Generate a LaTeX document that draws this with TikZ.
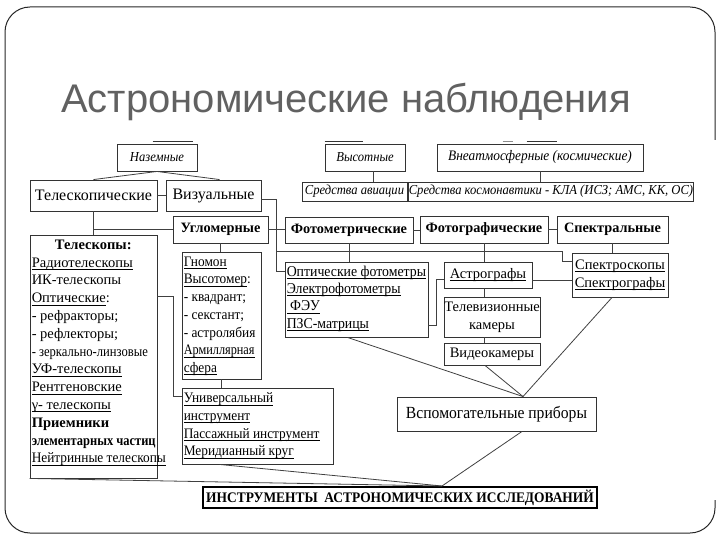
\documentclass[tikz,border=0pt]{standalone}
\usepackage{fontspec}
\setmainfont{Liberation Serif}
\newfontfamily\condfont{Liberation Serif}[FakeStretch=0.92]
\newfontfamily\titlefont{Liberation Sans}
\usepackage{graphicx}
\usepackage{tikz}
\usetikzlibrary{calc}
\newsavebox\undlbox
\newcommand{\undl}[1]{\sbox\undlbox{#1}\rlap{\rule[-2.6pt]{\wd\undlbox}{0.7pt}}\usebox\undlbox}

\begin{document}
\begin{tikzpicture}[x=1pt,y=-1pt,
  box/.style={draw=black!80,line width=0.9pt,inner sep=0pt,font=\fontsize{14.5}{17.8}\selectfont},
  ibox/.style={box,font=\condfont\fontsize{13.7}{17}\selectfont\itshape},
  bbox/.style={box,font=\fontsize{14.3}{17}\selectfont\bfseries},
  list/.style={anchor=north west,align=left,inner sep=0pt,font=\fontsize{14.5}{17.8}\selectfont},
  clist/.style={list,font=\condfont\fontsize{14.5}{17.7}\selectfont},
  link/.style={draw=black!75,line width=0.8pt},
  stub/.style={line width=1.3pt,black!80}]
\useasboundingbox (0,0) rectangle (720,540);
\draw[black!85,line width=1pt,rounded corners=25] (715,140) -- (715,7) -- (5,7) -- (5,533) -- (715,533) -- (715,500);
\node[anchor=base west,inner sep=0pt,text=black!62,font=\titlefont\fontsize{40}{48}\selectfont] (title) at (61,113) {Астрономические наблюдения};

\node[ibox,minimum width=80,minimum height=27] (naz) at (157,157.5) {Наземные};
\node[ibox,minimum width=80,minimum height=27] (vys) at (365,157.5) {Высотные};
\node[ibox,font=\condfont\fontsize{14.5}{17}\selectfont\itshape,minimum width=206,minimum height=27] (vne) at (540,157.5) {Внеатмосферные (космические)};
\node[ibox,minimum width=105,minimum height=19] (avia) at (354.5,191.5) {Средства авиации};
\node[ibox,minimum width=280,minimum height=19] (kosm) at (551,191.5) {Средства космонавтики - КЛА (ИСЗ; АМС, КК, ОС)};
\node[box,font=\fontsize{16}{19}\selectfont,minimum width=127,minimum height=31] (telsk) at (93.5,195.5) {Телескопические};
\node[box,font=\fontsize{16}{19}\selectfont,minimum width=95,minimum height=31] (viz) at (213.5,195.5) {Визуальные};
\node[bbox,minimum width=95,minimum height=27] (uglo) at (220.5,229.5) {Угломерные};
\node[bbox,minimum width=128,minimum height=26] (foto) at (349,230) {Фотометрические};
\node[bbox,minimum width=128,minimum height=27] (photog) at (484,229.5) {Фотографические};
\node[bbox,minimum width=111,minimum height=27] (spec) at (612.5,229.5) {Спектральные};

\node[box,minimum width=127,minimum height=243] (tel) at (93.5,356.5) {};
\node[list] (tel-list) at ($(tel.north west)+(2,5)$) {\makebox[123pt]{\textbf{Телескопы:}}\\
  \undl{Радиотелескопы}\\ ИК-телескопы\\ \undl{Оптические}:\\ - рефракторы;\\ - рефлекторы;\\
  \scalebox{0.87}[1]{- зеркально-линзовые}\\ \undl{УФ-телескопы}\\ \undl{Рентгеновские}\\
  \undl{γ- телескопы}\\ \textbf{Приемники}\\ \scalebox{0.86}[1]{\textbf{элементарных частиц}}\\
  \scalebox{0.92}[1]{\undl{Нейтринные телескопы}}};
\node[box,minimum width=79,minimum height=127] (gnom) at (221.5,315.5) {};
\node[clist] (gnom-list) at ($(gnom.north west)+(2,5)$) {\undl{Гномон}\\ \undl{Высотомер}:\\ - квадрант;\\
  - секстант;\\ - астролябия\\ \scalebox{0.92}[1]{\undl{Армиллярная}}\\ \undl{сфера}};
\node[box,minimum width=151,minimum height=76] (univ) at (257.5,426) {};
\node[clist] (univ-list) at ($(univ.north west)+(2,5)$) {\undl{Универсальный}\\ \undl{инструмент}\\
  \undl{Пассажный инструмент}\\ \undl{Меридианный круг}};
\node[box,minimum width=143,minimum height=75] (optf) at (356.5,299.5) {};
\node[clist,font=\condfont\fontsize{15}{17.3}\selectfont] (optf-list) at ($(optf.north west)+(2,4)$) {\undl{Оптические фотометры}\\ \undl{Электрофотометры}\\
  \undl{\ ФЭУ}\\ \undl{ПЗС-матрицы}};
\node[box,minimum width=88,minimum height=26] (astro) at (488,275) {\undl{Астрографы}};
\node[box,align=center,minimum width=96,minimum height=40] (tv) at (492,317) {Телевизионные\\камеры};
\node[box,minimum width=96,minimum height=22] (video) at (492,354) {Видеокамеры};
\node[box,align=center,minimum width=96,minimum height=44] (spsk) at (620,275) {\undl{Спектроскопы}\\\undl{Спектрографы}};
\node[box,font=\condfont\fontsize{17}{20}\selectfont,minimum width=199,minimum height=34] (aux) at (496.5,414) {Вспомогательные приборы};
\node[box,line width=2pt,draw=black,font=\condfont\fontsize{14.6}{18}\selectfont\bfseries,minimum width=394,minimum height=21] (instr) at (400,497.5) {ИНСТРУМЕНТЫ\ \ АСТРОНОМИЧЕСКИХ ИССЛЕДОВАНИЙ};

\draw[stub] ($(naz.north west)+(36,-2)$) -- ++(40,0);
\draw[stub] ($(vys.north west)+(0,-2)$) -- ++(38,0);
\draw[stub,black!45] ($(vne.north west)+(66,-2)$) -- ++(10,0);
\draw[stub] ($(vne.north west)+(90,-2)$) -- ++(30,0);

\draw[link] (naz.south) -- (telsk.north);
\draw[link] (naz.south) -- ($(viz.north)+(6,0)$);
\draw[link] ($(vys.south)+(8,0)$) -- ++(0,11);
\draw[link] (vne.south) -- (vne.south |- kosm.north);
\draw[link] (telsk.east) -- (telsk.east -| viz.west);
\draw[link] (telsk.south) -- (telsk.south |- tel.north);
\draw[link] (telsk.south |- uglo.west) -- (uglo.west);
\draw[link] ($(viz.east)+(0,4)$) -| ($(optf.north west)+(-8,10)$) -- ($(optf.north west)+(0,10)$);
\draw[link] ($(optf.north west)+(-8,-10)$) -- ($(spsk.north west)+(-9,-1)$) -- ($(spsk.north west)+(-9,9)$) -- ($(spsk.north west)+(0,9)$);
\draw[link] (uglo.east) -- (uglo.east -| foto.west);
\draw[link] (foto.east) -- (foto.east -| photog.west);
\draw[link] (photog.east) -- (photog.east -| spec.west);
\draw[link] (uglo.south) -- (uglo.south |- gnom.north);
\draw[link] (gnom.south) -- (gnom.south |- univ.north);
\draw[link] ($(tel.north east)+(0,62)$) -- ++(16,0) |- ($(univ.north west)+(0,9)$);
\draw[link] (foto.south) -- (foto.south |- optf.north);
\draw[link] (photog.south) -- (photog.south |- astro.north);
\draw[link] (photog.south |- astro.south) -- (photog.south |- tv.north);
\draw[link] (photog.south |- tv.south) -- (photog.south |- video.north);
\draw[link] ($(astro.east)+(0,5)$) -- ++(40,0);
\draw[link] ($(astro.west)+(0,4)$) -- ++(-7,0) |- ($(optf.south east)+(0,-12)$);
\draw[link] (spec.south) -- (spec.south |- spsk.north);
\coordinate (hub) at ($(aux.north)+(26.5,0)$);
\draw[link] ($(optf.south)+(-9,0)$) -- (hub);
\draw[link] ($(video.south)+(-7,0)$) -- (hub);
\draw[link] ($(spsk.south)+(-8,0)$) -- (hub);
\coordinate (base) at ($(instr.north)+(42,0)$);
\draw[link] ($(aux.south)+(25.5,0)$) -- (base);
\draw[link] (tel.south west) -- (base);
\draw[link] ($(univ.south west)+(38,0)$) -- (base);
\end{tikzpicture}
\end{document}
